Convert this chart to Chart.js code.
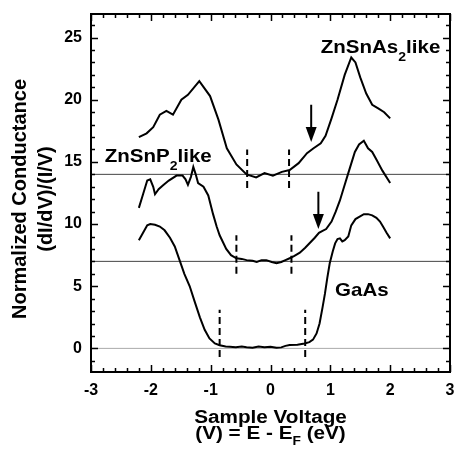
<!DOCTYPE html>
<html>
<head>
<meta charset="utf-8">
<script src="https://cdn.jsdelivr.net/npm/chart.js@4.4.1/dist/chart.umd.min.js"></script>
<style>
  html, body { margin:0; padding:0; background:#fff; }
  #wrap { width:458px; height:453px; }
</style>
</head>
<body>
<div id="wrap"><canvas id="chart" width="458" height="453"></canvas></div>
<script>
// ── data ──────────────────────────────────────────────────
const asX = [-2.20,-2.07,-1.96,-1.85,-1.74,-1.63,-1.49,-1.38,-1.19,-1.01,-0.87,-0.73,-0.57,-0.40,-0.24,-0.10,0.04,0.19,0.32,0.47,0.61,0.72,0.84,0.92,1.02,1.12,1.24,1.35,1.42,1.50,1.60,1.70,1.80,1.90,2.00];
const asY = [17.0,17.3,17.8,18.8,19.1,18.8,20.0,20.4,21.5,20.3,18.4,16.1,14.8,14.0,13.75,14.1,13.9,14.2,14.35,14.9,15.7,16.1,16.5,17.1,18.5,20.0,22.0,23.4,23.0,21.8,20.5,19.6,19.3,19.0,18.5];

const pX = [-2.20,-2.13,-2.06,-2.01,-1.96,-1.93,-1.87,-1.80,-1.70,-1.57,-1.47,-1.42,-1.38,-1.33,-1.29,-1.25,-1.21,-1.12,-1.04,-0.96,-0.90,-0.85,-0.74,-0.66,-0.57,-0.48,-0.40,-0.30,-0.23,-0.15,-0.07,0.02,0.10,0.18,0.25,0.32,0.40,0.49,0.58,0.66,0.74,0.81,0.87,0.93,1.02,1.09,1.16,1.23,1.30,1.41,1.48,1.56,1.63,1.70,1.77,1.87,2.00];
const pY = [11.3,12.4,13.5,13.6,13.0,12.4,12.8,13.1,13.5,13.9,13.9,13.6,13.15,13.8,14.6,14.0,13.3,13.0,12.3,10.8,9.8,9.1,8.0,7.5,7.25,7.2,7.1,7.05,6.95,7.1,7.1,6.95,6.85,6.95,7.1,7.25,7.45,7.7,8.1,8.5,8.9,9.3,9.45,9.6,10.2,11.0,11.9,13.0,14.1,15.8,16.4,16.7,16.1,15.8,15.2,14.3,13.3];

const gX = [-2.20,-2.13,-2.06,-2.01,-1.93,-1.85,-1.77,-1.68,-1.60,-1.52,-1.44,-1.35,-1.27,-1.18,-1.10,-1.02,-0.93,-0.85,-0.75,-0.68,-0.58,-0.48,-0.40,-0.30,-0.20,-0.10,0.00,0.10,0.18,0.25,0.32,0.45,0.57,0.65,0.71,0.77,0.82,0.87,0.91,0.95,0.99,1.04,1.08,1.12,1.16,1.20,1.24,1.30,1.35,1.42,1.49,1.56,1.63,1.70,1.77,1.83,1.88,1.94,2.00];
const gY = [8.7,9.3,9.9,10.0,9.95,9.8,9.5,8.9,8.2,7.1,6.0,5.0,3.8,2.5,1.5,0.8,0.4,0.25,0.15,0.13,0.1,0.15,0.1,0.05,0.15,0.1,0.13,0.05,0.08,0.2,0.27,0.3,0.4,0.5,0.7,1.2,2.0,3.3,4.4,5.7,6.85,7.8,8.45,8.8,8.85,8.6,8.7,9.0,9.9,10.4,10.6,10.8,10.8,10.7,10.5,10.2,9.8,9.3,8.85];

const baseLevels = [14, 7, 0];
const baseColors = ['#444', '#444', '#aaa'];

const dashX = [-0.39, 0.31, -0.57, 0.35, -0.85, 0.58];
const dashLow = [12.9, 12.9, 6.0, 6.0, -0.7, -0.7];
const dashHigh = [16.0, 16.0, 9.1, 9.1, 3.1, 3.1];

const arrowX = [0.68, 0.80];
const arrowTop = [19.6, 12.6];
const arrowTip = [16.6, 9.6];

const xMin = -3, xMax = 3, yMin = -1.9, yMax = 26.9;

// labels: [main, subscript, tail, x, y(baseline)]
const curveLabels = [
  ['ZnSnAs', '2', 'like', 0.84, 23.75],
  ['ZnSnP', '2', 'like', -2.77, 15.0],
  ['GaAs', '', '', 1.08, 4.2],
];

const pts = (xs, ys) => xs.map((x, i) => ({ x, y: ys[i] }));

const datasets = [];
[[asX, asY], [pX, pY], [gX, gY]].forEach(([xs, ys]) => {
  datasets.push({ data: pts(xs, ys), borderColor: '#000', borderWidth: 2, order: 0 });
});
baseLevels.forEach((lv, i) => {
  datasets.push({ data: [{ x: xMin, y: lv }, { x: xMax, y: lv }], borderColor: baseColors[i], borderWidth: 1, order: 5 });
});
dashX.forEach((x, i) => {
  datasets.push({ data: [{ x, y: dashLow[i] }, { x, y: dashHigh[i] }], borderColor: '#000', borderWidth: 2, borderDash: [7, 4], order: 1 });
});

const FONT = '"Liberation Sans", Arial, Helvetica, sans-serif';

// draws a run of [text, size, dy] pieces, horizontally stretched by sx
function drawRuns(ctx, runs, x, y, sx, align) {
  let total = 0;
  runs.forEach(([t, size]) => { ctx.font = 'bold ' + size + 'px ' + FONT; total += ctx.measureText(t).width; });
  ctx.save();
  ctx.translate(x, y);
  ctx.scale(sx, 1);
  let cx = align === 'center' ? -total / 2 : 0;
  ctx.textAlign = 'left'; ctx.textBaseline = 'alphabetic';
  runs.forEach(([t, size, dy]) => {
    ctx.font = 'bold ' + size + 'px ' + FONT;
    ctx.fillText(t, cx, dy || 0);
    cx += ctx.measureText(t).width;
  });
  ctx.restore();
}

const decorPlugin = {
  id: 'decor',
  afterDatasetsDraw(chart) {
    const { ctx, chartArea: a, scales: { x, y } } = chart;
    ctx.save();

    // arrows
    ctx.strokeStyle = '#000'; ctx.fillStyle = '#000'; ctx.lineWidth = 2;
    arrowX.forEach((v, i) => {
      const px = x.getPixelForValue(v);
      const top = y.getPixelForValue(arrowTop[i]);
      const tip = y.getPixelForValue(arrowTip[i]);
      ctx.beginPath(); ctx.moveTo(px, top); ctx.lineTo(px, tip - 10); ctx.stroke();
      ctx.beginPath(); ctx.moveTo(px - 5.5, tip - 15); ctx.lineTo(px + 5.5, tip - 15); ctx.lineTo(px, tip); ctx.closePath(); ctx.fill();
    });

    // frame
    ctx.lineWidth = 2;
    ctx.strokeRect(a.left, a.top, a.right - a.left, a.bottom - a.top);

    // inward ticks on all sides
    ctx.lineWidth = 1.5;
    ctx.beginPath();
    for (let k = 0; k <= 30; k++) {
      const v = xMin + k * 0.2;
      const px = Math.round(x.getPixelForValue(v)) + 0.5;
      const len = k % 5 === 0 ? 7 : 4;
      ctx.moveTo(px, a.bottom); ctx.lineTo(px, a.bottom - len);
      ctx.moveTo(px, a.top); ctx.lineTo(px, a.top + len);
    }
    for (let v = -1; v <= 26; v++) {
      const py = Math.round(y.getPixelForValue(v)) + 0.5;
      const len = v % 5 === 0 ? 7 : 4;
      ctx.moveTo(a.left, py); ctx.lineTo(a.left + len, py);
      ctx.moveTo(a.right, py); ctx.lineTo(a.right - len, py);
    }
    ctx.stroke();

    // curve labels
    curveLabels.forEach(([main, sub, tail, lx, ly]) => {
      const runs = [[main, 19, 0]];
      if (sub) runs.push([sub, 13, 8], [tail, 19, 0]);
      drawRuns(ctx, runs, x.getPixelForValue(lx), y.getPixelForValue(ly), 1.08, 'left');
    });

    // axis titles
    const cx = (a.left + a.right) / 2;
    drawRuns(ctx, [['Sample Voltage', 18, 0]], cx, 423, 1.15, 'center');
    drawRuns(ctx, [['(V) = E - E', 18, 0], ['F', 12, 6], [' (eV)', 18, 0]], cx, 439, 1.15, 'center');

    ctx.font = 'bold 20px ' + FONT;
    ctx.textAlign = 'center'; ctx.textBaseline = 'middle';
    const cy = 199;
    ctx.save(); ctx.translate(20, cy); ctx.rotate(-Math.PI / 2);
    ctx.fillText('Normalized Conductance', 0, 0); ctx.restore();
    ctx.save(); ctx.translate(46, cy); ctx.rotate(-Math.PI / 2);
    ctx.fillText('(dI/dV)/(I/V)', 0, 0); ctx.restore();

    ctx.restore();
  }
};

new Chart(document.getElementById('chart'), {
  type: 'line',
  data: { datasets },
  options: {
    responsive: false,
    animation: false,
    layout: { padding: { top: 14, right: 8, left: 0, bottom: 0 } },
    elements: { point: { radius: 0 }, line: { tension: 0 } },
    plugins: { legend: { display: false }, tooltip: { enabled: false } },
    scales: {
      x: {
        type: 'linear', min: xMin, max: xMax,
        grid: { display: false, drawTicks: false },
        border: { display: false },
        ticks: { stepSize: 1, color: '#000', padding: 9, font: { family: FONT, size: 16, weight: 'bold' } },
        afterFit: s => { s.height = 81; s.paddingLeft = 0; s.paddingRight = 0; }
      },
      y: {
        type: 'linear', min: yMin, max: yMax,
        grid: { display: false, drawTicks: false },
        border: { display: false },
        ticks: { stepSize: 5, color: '#000', padding: 9, font: { family: FONT, size: 16, weight: 'bold' } },
        afterBuildTicks: s => { s.ticks = s.ticks.filter(t => Math.abs(t.value % 5) < 1e-9); },
        afterFit: s => { s.width = 91; s.paddingTop = 0; s.paddingBottom = 0; }
      }
    }
  },
  plugins: [decorPlugin]
});
</script>
</body>
</html>
